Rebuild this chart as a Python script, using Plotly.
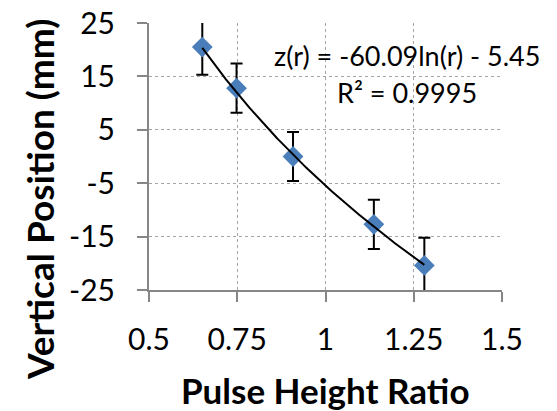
import numpy as np
import plotly.graph_objects as go

# Measured pulse height ratios and vertical positions
ratio = [0.651, 0.748, 0.908, 1.137, 1.280]
position = [20.5, 12.8, 0.0, -12.7, -20.4]
position_err = [5.2, 4.6, 4.6, 4.6, 5.2]

# Logarithmic fit z(r) = a*ln(r) + b
fit_a = -60.09
fit_b = -5.45
fit_r2 = 0.9995

x_ticks = [0.5, 0.75, 1, 1.25, 1.5]
x_labels = ["0.5", "0.75", "1", "1.25", "1.5"]
y_ticks = [25, 15, 5, -5, -15, -25]
y_labels = ["25", "15", "5", "-5", "-15", "-25"]

font_family = "Lato, 'Open Sans', sans-serif"

r_fit = np.linspace(min(ratio), max(ratio), 200)
z_fit = fit_a * np.log(r_fit) + fit_b

fig = go.Figure()

fig.add_trace(go.Scatter(
    x=ratio, y=position, mode="markers",
    marker=dict(symbol="diamond", size=16, color="#4a7ebb",
                line=dict(width=0)),
    error_y=dict(type="data", array=position_err, visible=True,
                 color="black", thickness=2, width=6),
    showlegend=False,
))

fig.add_trace(go.Scatter(
    x=r_fit, y=z_fit, mode="lines",
    line=dict(color="black", width=2),
    hoverinfo="skip", showlegend=False,
))

# Fit equation and goodness of fit
fig.add_annotation(
    x=1.5, y=19.0, xref="x", yref="y", xanchor="right", yanchor="middle",
    text="z(r) = -60.09ln(r) - 5.45", showarrow=False,
    font=dict(family=font_family, size=27, color="black"), xshift=40,
)
fig.add_annotation(
    x=1.232, y=12.0, xref="x", yref="y", xanchor="center", yanchor="middle",
    text="R² = %.4f" % fit_r2, showarrow=False,
    font=dict(family=font_family, size=27, color="black"),
)

# Axis titles
fig.add_annotation(
    x=0, y=0.337, xref="paper", yref="paper", xshift=-110,
    xanchor="center", yanchor="middle", textangle=-90,
    text="<b>Vertical Position (mm)</b>", showarrow=False,
    font=dict(family=font_family, size=37, color="black"),
)
fig.add_annotation(
    x=0.5, y=0, xref="paper", yref="paper", yshift=-100,
    xanchor="center", yanchor="middle",
    text="<b>Pulse Height Ratio</b>", showarrow=False,
    font=dict(family=font_family, size=35, color="black"),
)

grid_color = "#a6a6a6"
axis_color = "#868686"
fig.update_xaxes(
    range=[0.5, 1.5], tickvals=x_ticks, ticktext=x_labels,
    automargin=False,
    showgrid=True, gridcolor=grid_color, griddash="dot", gridwidth=1,
    showline=True, linecolor=axis_color, linewidth=2,
    ticks="outside", ticklen=10, tickcolor=axis_color, tickwidth=2,
    ticklabelstandoff=12,
    tickfont=dict(family=font_family, size=30, color="black"),
    zeroline=False,
)
fig.update_yaxes(
    range=[-25, 25], tickvals=y_ticks, ticktext=y_labels,
    automargin=False,
    showgrid=True, gridcolor=grid_color, griddash="dot", gridwidth=1,
    showline=True, linecolor=axis_color, linewidth=2,
    ticks="outside", ticklen=10, tickcolor=axis_color, tickwidth=2,
    ticklabelstandoff=16,
    tickfont=dict(family=font_family, size=30, color="black"),
    zeroline=False,
)

fig.update_layout(
    width=557, height=411,
    margin=dict(l=149, r=55, t=23, b=121),
    plot_bgcolor="white", paper_bgcolor="white",
)

fig.write_html("out.html")
